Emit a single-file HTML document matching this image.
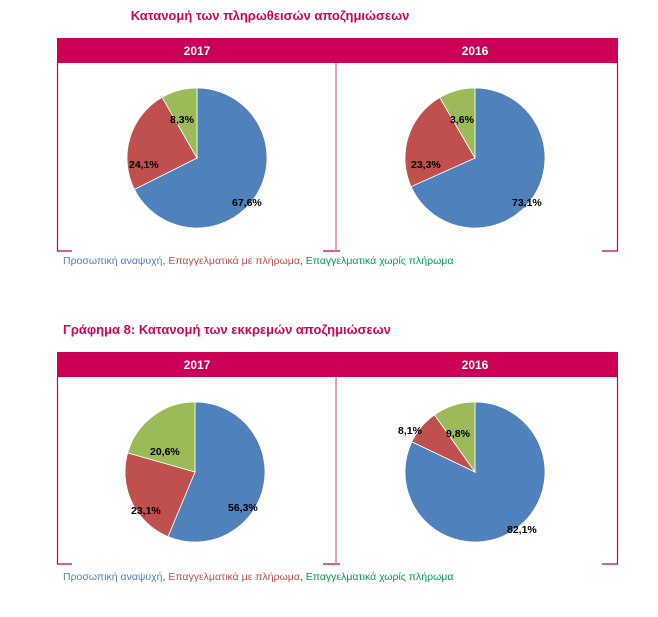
<!DOCTYPE html>
<html><head><meta charset="utf-8">
<style>
body{margin:0;background:#fff;width:658px;height:617px;overflow:hidden;font-family:"Liberation Sans","DejaVu Sans",sans-serif}
svg{position:absolute;left:0;top:0}
</style></head><body>
<svg id="s" width="658" height="617" viewBox="0 0 658 617" xmlns="http://www.w3.org/2000/svg">
<g font-family="Liberation Sans, DejaVu Sans, sans-serif">
<text x="270" y="20" text-anchor="middle" font-size="13" font-weight="bold" fill="#d6005e">Κατανομή των πληρωθεισών αποζημιώσεων</text>
<rect x="57" y="38" width="561" height="25" fill="#cc0055"/>
<text x="197" y="55" text-anchor="middle" font-size="12" font-weight="bold" fill="#fff">2017</text>
<text x="475" y="55" text-anchor="middle" font-size="12" font-weight="bold" fill="#fff">2016</text>
<g stroke="#cc0055" stroke-width="1.2" fill="none">
<path d="M57.5 63V251H72M617.5 63V251H602M323 251H340"/>
</g>
<line x1="336" y1="63" x2="336" y2="251" stroke="#e080b0" stroke-width="1.5"/>
<text x="63" y="264" font-size="10.5"><tspan fill="#4f81bd">Προσωπική αναψυχή</tspan><tspan fill="#444">, </tspan><tspan fill="#c0504d">Επαγγελματικά με πλήρωμα</tspan><tspan fill="#444">, </tspan><tspan fill="#00a050">Επαγγελματικά χωρίς πλήρωμα</tspan></text>

<text x="63" y="334" font-size="13" font-weight="bold" fill="#d6005e">Γράφημα 8: Κατανομή των εκκρεμών αποζημιώσεων</text>
<rect x="57" y="352" width="561" height="25" fill="#cc0055"/>
<text x="197" y="369" text-anchor="middle" font-size="12" font-weight="bold" fill="#fff">2017</text>
<text x="475" y="369" text-anchor="middle" font-size="12" font-weight="bold" fill="#fff">2016</text>
<g stroke="#cc0055" stroke-width="1.2" fill="none">
<path d="M57.5 377V564H72M617.5 377V564H602M323 564H340"/>
</g>
<line x1="336" y1="377" x2="336" y2="564" stroke="#e080b0" stroke-width="1.5"/>
<text x="63" y="580" font-size="10.5"><tspan fill="#4f81bd">Προσωπική αναψυχή</tspan><tspan fill="#444">, </tspan><tspan fill="#c0504d">Επαγγελματικά με πλήρωμα</tspan><tspan fill="#444">, </tspan><tspan fill="#00a050">Επαγγελματικά χωρίς πλήρωμα</tspan></text>
<g id="pies"></g>
<g font-size="10.5" font-weight="bold" fill="#000">
<text x="232" y="206">67,6%</text><text x="129" y="168">24,1%</text><text x="170" y="123">8,3%</text>
<text x="512" y="206">73,1%</text><text x="411" y="168">23,3%</text><text x="450" y="123">3,6%</text>
<text x="228" y="511">56,3%</text><text x="131" y="514">23,1%</text><text x="150" y="455">20,6%</text>
<text x="507" y="533">82,1%</text><text x="398" y="434">8,1%</text><text x="446" y="437">9,8%</text>
</g>
</g>
</svg>
<script>
var cols=["#4f81bd","#c0504d","#9bbb59"];
var pies=[[197,158,70,[67.6,24.1,8.3]],[475,158,70,[68.3,23.3,8.4]],[195,472,70,[56.3,23.1,20.6]],[475,472,70,[82.1,8.1,9.8]]];
var g=document.getElementById("pies"),h="";
pies.forEach(function(p){var cx=p[0],cy=p[1],r=p[2],a=0,t=p[3].reduce(function(x,y){return x+y},0);
p[3].forEach(function(v,i){var b=a+v/t*2*Math.PI;
var x1=cx+r*Math.sin(a),y1=cy-r*Math.cos(a),x2=cx+r*Math.sin(b),y2=cy-r*Math.cos(b);
h+='<path d="M'+cx+' '+cy+'L'+x1+' '+y1+'A'+r+' '+r+' 0 '+((b-a)>Math.PI?1:0)+' 1 '+x2+' '+y2+'Z" fill="'+cols[i]+'" stroke="#fff" stroke-width="0.8"/>';a=b;});});
g.innerHTML=h;
</script>
</body></html>
